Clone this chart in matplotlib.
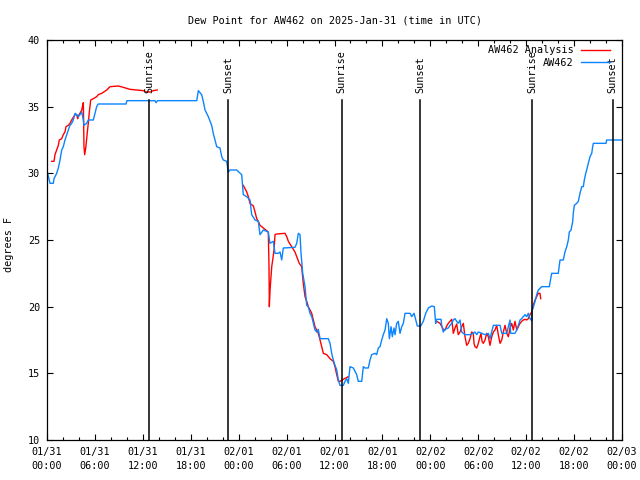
import matplotlib
matplotlib.use("Agg")
import matplotlib.pyplot as plt
import matplotlib.dates as mdates
import matplotlib.transforms as mtransforms
import pandas as pd

plt.rcParams['font.family'] = ['DejaVu Sans Mono']

START = pd.Timestamp("2025-01-31 00:00")

# AW462 observations: hours after start, dew point (F)
obs_hours = [0.04, 0.38, 0.79, 0.88, 1.21, 1.42, 1.63, 1.84, 2.04, 2.25, 2.47, 2.67, 2.88, 3.09,
             3.29, 3.51, 3.72, 3.92, 4.13, 4.35, 4.55, 4.63, 4.97, 5.17, 5.80, 6.01, 6.22, 6.42,
             9.89, 10.02, 13.52, 13.65, 13.84, 18.75, 18.95, 19.37, 19.57, 19.79, 20.20, 20.62,
             20.82, 21.25, 21.66, 21.88, 22.08, 22.50, 22.70, 22.92, 23.75, 24.38, 24.58, 25.01,
             25.42, 25.63, 26.05, 26.46, 26.67, 27.09, 27.71, 27.92, 28.34, 28.55, 28.96, 29.18,
             29.39, 29.59, 31.05, 31.27, 31.47, 31.68, 31.81, 32.02, 32.31, 32.52, 32.72, 32.93,
             33.15, 33.35, 33.56, 33.77, 33.97, 34.19, 35.22, 35.44, 35.65, 35.85, 36.06, 36.28,
             36.48, 36.69, 37.10, 37.32, 37.53, 37.73, 37.94, 38.36, 38.78, 38.98, 39.41, 39.61,
             39.82, 40.23, 40.45, 40.66, 41.07, 41.28, 41.49, 41.70, 41.91, 42.11, 42.33, 42.54,
             42.74, 42.87, 43.08, 43.24, 43.45, 43.58, 43.79, 43.99, 44.20, 44.42, 44.62, 44.83,
             45.46, 45.67, 45.96, 46.17, 46.37, 46.80, 47.12, 47.42, 47.75, 48.17, 48.50, 48.67,
             48.80, 49.34, 49.42, 49.62, 49.84, 50.25, 50.46, 50.68, 50.88, 51.09, 51.30, 51.50,
             51.72, 51.93, 52.34, 52.97, 53.38, 53.59, 53.81, 54.01, 54.43, 54.85, 55.26, 55.47,
             55.89, 56.73, 56.94, 57.57, 57.77, 57.98, 58.06, 58.60, 58.82, 59.02, 59.23, 59.44,
             59.64, 59.86, 60.07, 60.27, 60.48, 60.69, 60.77, 60.92, 61.11, 61.32, 61.52, 61.95,
             62.90, 63.07, 63.20, 64.02, 64.15, 64.24, 64.65, 64.86, 65.08, 65.28, 65.40, 65.62,
             65.83, 65.90, 66.03, 66.33, 66.53, 66.74, 66.96, 67.16, 67.28, 67.46, 67.58, 67.78,
             68.00, 68.21, 68.33, 68.41, 70.00, 70.08, 72.00]
obs_dewpt = [30.1, 29.25, 29.25, 29.6, 30.0, 30.4, 31.0, 31.75, 32.0, 32.5, 32.9, 33.25, 33.6, 33.75,
             34.0, 34.5, 34.4, 34.25, 34.4, 34.6, 34.0, 33.6, 33.75, 34.0, 34.0, 34.5, 35.0, 35.2,
             35.2, 35.45, 35.45, 35.3, 35.45, 35.45, 36.2, 35.9, 35.4, 34.75, 34.25, 33.6,
             33.0, 32.0, 31.9, 31.25, 31.0, 30.9, 30.1, 30.25, 30.25, 29.9, 28.4, 28.25,
             28.0, 26.9, 26.5, 26.4, 25.4, 25.75, 25.6, 24.75, 24.9, 24.0, 24.0, 24.1,
             23.5, 24.4, 24.45, 24.75, 25.5, 25.4, 24.0, 22.5, 21.5, 20.1, 20.0, 19.5,
             19.25, 18.75, 18.25, 18.1, 18.3, 17.6, 17.6, 17.25, 16.5, 16.0, 15.6, 15.25,
             14.5, 14.1, 14.1, 14.4, 14.6, 14.25, 15.5, 15.4, 14.9, 14.4, 14.4, 15.5,
             15.4, 15.4, 16.0, 16.4, 16.5, 16.4, 16.9, 17.0, 17.5, 17.9, 18.25, 19.1,
             18.75, 17.6, 18.5, 17.75, 18.4, 17.9, 18.75, 18.9, 18.0, 18.5, 18.75, 19.5,
             19.5, 19.25, 19.5, 19.0, 18.55, 18.55, 18.9, 19.5, 19.9, 20.05, 20.0, 18.75,
             19.05, 19.05, 18.6, 18.1, 18.3, 18.4, 18.6, 18.75, 19.0, 19.1, 18.9, 18.75,
             19.0, 18.1, 17.9, 17.9, 18.0, 18.1, 17.9, 18.1, 18.0, 17.9, 18.0, 17.6,
             18.6, 18.6, 18.0, 18.0, 18.5, 19.0, 18.0, 18.0, 18.25, 18.6, 19.0, 19.1,
             19.25, 19.4, 19.25, 19.5, 19.1, 18.95, 19.75, 20.0, 20.4, 20.9, 21.25, 21.5,
             21.5, 22.1, 22.5, 22.5, 23.1, 23.5, 23.5, 24.1, 24.5, 25.0, 25.6, 25.75,
             26.4, 27.0, 27.6, 27.75, 27.9, 28.5, 29.0, 29.0, 29.5, 30.0, 30.25, 30.75,
             31.25, 31.5, 32.0, 32.25, 32.25, 32.5, 32.5]

# AW462 Analysis: three segments (hours after start, dew point F)
ana1_hours = [0.59, 0.88, 1.00, 1.21, 1.42, 1.54, 1.84, 2.04, 2.25, 2.38, 2.67, 2.88, 3.09, 3.29,
              3.51, 3.72, 3.84, 3.92, 4.13, 4.35, 4.47, 4.55, 4.63, 4.72, 4.85, 4.97, 5.05, 5.17,
              5.30, 5.47, 5.80, 6.22, 6.42, 6.85, 7.48, 7.89, 8.93, 9.55, 10.39, 11.23, 12.06,
              12.48, 12.90, 13.31, 13.81]
ana1_dewpt = [30.9, 30.9, 31.4, 31.75, 32.1, 32.5, 32.6, 32.9, 33.1, 33.5, 33.6, 33.75, 34.0, 34.2,
              34.4, 34.4, 34.1, 34.3, 34.5, 34.75, 35.1, 35.3, 32.0, 31.4, 31.9, 32.6, 33.1, 33.75,
              34.6, 35.5, 35.6, 35.75, 35.9, 36.0, 36.25, 36.5, 36.55, 36.45, 36.3, 36.25, 36.2,
              36.1, 36.1, 36.2, 36.25]
ana2_hours = [24.58, 25.01, 25.21, 25.42, 25.84, 26.05, 26.26, 26.46, 26.67, 27.09, 27.71, 27.80,
              27.84, 27.93, 28.05, 28.14, 28.26, 28.43, 28.55, 28.76, 29.80, 30.02, 30.22, 30.64,
              31.05, 31.27, 31.59, 31.89, 32.09, 32.31, 32.52, 32.72, 33.15, 33.35, 33.56, 33.97,
              34.19, 34.40, 34.60, 35.03, 35.44, 35.85, 36.06, 36.28, 36.48, 36.69, 37.10, 37.73]
ana2_dewpt = [29.1, 28.6, 28.25, 27.75, 27.55, 27.1, 26.6, 26.4, 26.1, 25.9, 25.6, 23.0,
              20.0, 21.25, 22.25, 23.0, 23.5, 24.25, 25.4, 25.45, 25.5, 25.25, 24.9, 24.5,
              24.1, 23.75, 23.25, 23.0, 21.75, 20.75, 20.4, 20.0, 19.5, 19.0, 18.5, 18.0,
              17.5, 17.0, 16.5, 16.4, 16.1, 15.9, 15.5, 14.9, 14.4, 14.4, 14.55, 14.75]
ana3_hours = [48.80, 49.21, 49.62, 49.84, 50.05, 50.25, 50.46, 50.68, 50.88, 51.09, 51.30, 51.50,
              51.72, 51.93, 52.13, 52.34, 52.55, 52.75, 52.97, 53.18, 53.38, 53.47, 53.59, 53.81,
              54.01, 54.22, 54.35, 54.47, 54.64, 54.85, 55.06, 55.26, 55.47, 55.69, 55.89, 56.10,
              56.31, 56.51, 56.73, 56.94, 57.14, 57.35, 57.57, 57.77, 57.98, 58.19, 58.39, 58.60,
              58.82, 59.02, 59.23, 59.44, 59.64, 59.86, 60.07, 60.27, 60.48, 60.69, 60.89, 61.11,
              61.32, 61.52, 61.73, 61.82]
ana3_dewpt = [18.9, 18.75, 18.3, 18.25, 18.55, 18.75, 18.9, 19.05, 18.0, 18.4, 18.7, 17.9,
              18.1, 18.5, 18.75, 17.75, 17.1, 17.25, 17.6, 18.1, 18.0, 17.25, 17.0, 16.9,
              17.25, 17.75, 18.0, 17.4, 17.25, 17.5, 18.0, 17.75, 17.1, 17.75, 18.1, 18.25,
              18.6, 17.9, 17.25, 17.5, 18.1, 18.6, 18.0, 17.75, 18.4, 18.75, 18.25, 18.9,
              18.25, 18.5, 18.75, 18.9, 19.0, 19.05, 19.0, 19.1, 19.4, 19.6, 20.1, 20.5,
              20.75, 21.0, 21.0, 20.6]

sun_labels = ["Sunrise", "Sunset", "Sunrise", "Sunset", "Sunrise", "Sunset"]
sun_hours = [12.81, 22.70, 36.88, 46.74, 60.77, 70.84]


def to_time(hours):
    return START + pd.to_timedelta(pd.Series(hours), unit="h")


fig = plt.figure(figsize=(6.4, 4.8), dpi=100)
ax = fig.add_axes([47 / 640, 40 / 480, 575 / 640, 400 / 480])

red = "#ff0000"
blue = "#0a84ff"
fs = 7.3

ax.plot(to_time(ana1_hours), ana1_dewpt, color=red, lw=1.0, label="AW462 Analysis")
ax.plot(to_time(ana2_hours), ana2_dewpt, color=red, lw=1.0)
ax.plot(to_time(ana3_hours), ana3_dewpt, color=red, lw=1.0)
ax.plot(to_time(obs_hours), obs_dewpt, color=blue, lw=1.0, label="AW462")

trans = mtransforms.blended_transform_factory(ax.transData, ax.transAxes)
for lab, t in zip(sun_labels, to_time(sun_hours)):
    ax.plot([t, t], [0, 0.85], color="black", lw=1.1, transform=trans)
    ax.text(t, 0.868, lab, rotation=90, ha="center", va="bottom", fontsize=fs, transform=trans)

ax.set_xlim(START, START + pd.Timedelta(hours=72))
ax.set_ylim(10, 40)
ax.set_yticks([10, 15, 20, 25, 30, 35, 40])
ax.xaxis.set_major_locator(mdates.HourLocator(byhour=range(0, 24, 6)))
ax.xaxis.set_minor_locator(mdates.HourLocator(byhour=range(0, 24, 2)))
ax.xaxis.set_major_formatter(mdates.DateFormatter("%m/%d\n%H:%M"))

ax.tick_params(axis="both", which="major", direction="in", length=4, width=0.8,
               top=True, right=True, labelsize=fs, pad=5)
ax.tick_params(axis="x", which="minor", direction="in", length=2.5, width=0.8, top=True)
for lbl in ax.get_xticklabels():
    lbl.set_linespacing(1.5)
for sp in ax.spines.values():
    sp.set_linewidth(0.9)

ax.set_ylabel("degrees F", fontsize=fs)
ax.yaxis.set_label_coords(-0.057, 0.49)
ax.set_title("Dew Point for AW462 on 2025-Jan-31 (time in UTC)", fontsize=fs, pad=12)

ax.legend(loc="upper right", bbox_to_anchor=(0.988, 1.0), frameon=False, markerfirst=False,
          fontsize=fs, handlelength=2.9, handletextpad=0.7, labelspacing=0.25, borderpad=0.0)

fig.savefig("out.png", dpi=100)
